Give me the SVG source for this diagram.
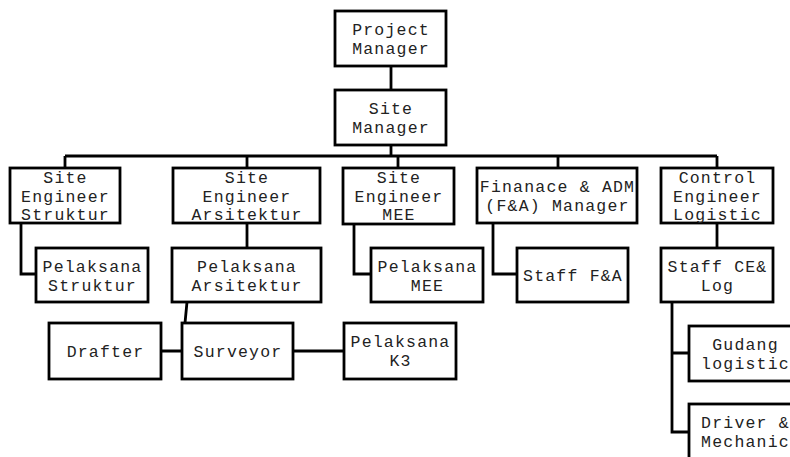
<svg xmlns="http://www.w3.org/2000/svg" width="790" height="457" viewBox="0 0 790 457">
<style>
.box{fill:#fff;stroke:#000;stroke-width:2.8}
.ln{fill:none;stroke:#000;stroke-width:2.8}
text{font-family:"Liberation Mono","Courier New",monospace;font-size:16.5px;letter-spacing:1.2px;fill:#222;text-anchor:middle}
</style>
<rect width="790" height="457" fill="#fff"/>
<g id="connectors">
<path class="ln" d="M391,66V90M391,145V156M65,156H717M65,156V168M247,156V168M398,156V168M558,156V168M717,156V168"/>
<path class="ln" d="M21,223V274H36M247,223V248M354,224V274H371M493,223V274H517M717,223V248"/>
<path class="ln" d="M187,302L185,323M161,351H182M293,351H344"/>
<path class="ln" d="M672,302V432H689M672,353H689"/>
</g>
<g id="pm"><rect class="box" x="335" y="11" width="111" height="55"/><text x="391" y="35">Project</text><text x="391" y="54">Manager</text></g>
<g id="sm"><rect class="box" x="335" y="90" width="111" height="55"/><text x="391" y="114">Site</text><text x="391" y="133">Manager</text></g>
<g id="ses"><rect class="box" x="10" y="168" width="110" height="55"/><text x="65.5" y="183">Site</text><text x="65.5" y="202">Engineer</text><text x="65.5" y="220">Struktur</text></g>
<g id="sea"><rect class="box" x="173" y="168" width="147" height="55"/><text x="247" y="183">Site</text><text x="247" y="202">Engineer</text><text x="247" y="220">Arsitektur</text></g>
<g id="sem"><rect class="box" x="343" y="168" width="111" height="56"/><text x="399" y="183">Site</text><text x="399" y="202">Engineer</text><text x="399" y="220">MEE</text></g>
<g id="fa"><rect class="box" x="477" y="168" width="160" height="55"/><text x="557.5" y="192">Finanace &amp; ADM</text><text x="557.5" y="211">(F&amp;A) Manager</text></g>
<g id="ce"><rect class="box" x="661" y="168" width="112" height="55"/><text x="717.5" y="183">Control</text><text x="717.5" y="202">Engineer</text><text x="717.5" y="220">Logistic</text></g>
<g id="ps"><rect class="box" x="36" y="248" width="112" height="54"/><text x="92.5" y="272">Pelaksana</text><text x="92.5" y="291">Struktur</text></g>
<g id="pa"><rect class="box" x="172" y="248" width="149" height="54"/><text x="247" y="272">Pelaksana</text><text x="247" y="291">Arsitektur</text></g>
<g id="pm2"><rect class="box" x="371" y="248" width="112" height="54"/><text x="427.5" y="272">Pelaksana</text><text x="427.5" y="291">MEE</text></g>
<g id="sfa"><rect class="box" x="517" y="248" width="111" height="54"/><text x="573" y="281">Staff F&amp;A</text></g>
<g id="scl"><rect class="box" x="661" y="248" width="112" height="54"/><text x="717.5" y="272">Staff CE&amp;</text><text x="717.5" y="291">Log</text></g>
<g id="drafter"><rect class="box" x="49" y="323" width="112" height="56"/><text x="105.5" y="357">Drafter</text></g>
<g id="surveyor"><rect class="box" x="182" y="323" width="111" height="56"/><text x="238" y="357">Surveyor</text></g>
<g id="k3"><rect class="box" x="344" y="323" width="112" height="56"/><text x="400.5" y="347">Pelaksana</text><text x="400.5" y="366">K3</text></g>
<g id="gudang"><rect class="box" x="689" y="326" width="112" height="55"/><text x="745.5" y="350">Gudang</text><text x="745.5" y="369">logistic</text></g>
<g id="driver"><rect class="box" x="689" y="404" width="112" height="56"/><text x="745.5" y="428">Driver &amp;</text><text x="745.5" y="447">Mechanic</text></g>
</svg>
